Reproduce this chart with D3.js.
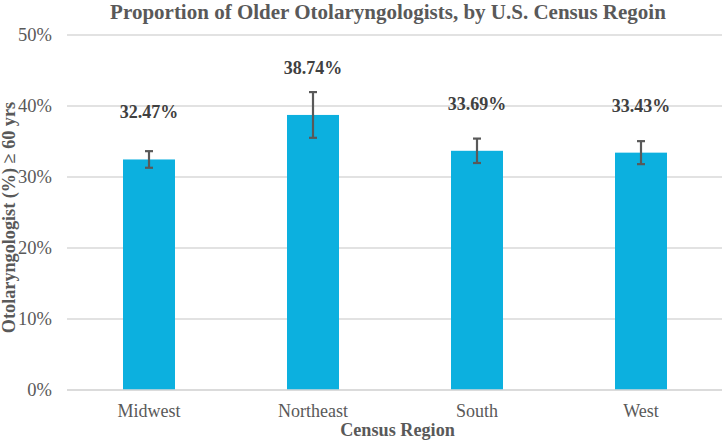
<!DOCTYPE html>
<html>
<head>
<meta charset="utf-8">
<script src="https://cdn.jsdelivr.net/npm/d3@7"></script>
<style>
  body { margin: 0; background: #fff; }
</style>
</head>
<body>
<svg id="chart" width="722" height="442"></svg>
<script>
const categories = ["Midwest", "Northeast", "South", "West"];
const values = [32.47, 38.74, 33.69, 33.43];
const errors = [1.17, 3.22, 1.72, 1.62];
const yTicks = [0, 10, 20, 30, 40, 50];
const valueLabels = ["32.47%", "38.74%", "33.69%", "33.43%"];

const data = categories.map((c, i) => ({ c, v: values[i], e: errors[i], label: valueLabels[i] }));

const FONT = "'Liberation Serif', 'Times New Roman', Times, 'DejaVu Serif', serif";
const svg = d3.select("#chart");
const plot = { left: 67, right: 722, top: 35, bottom: 390 };

const x = d3.scaleBand().domain(categories)
  .range([plot.left, plot.right + 1])
  .paddingInner(0.683).paddingOuter(0.3415);
const y = d3.scaleLinear().domain([0, 50]).range([plot.bottom, plot.top]);

const grey = "#595959";

// gridlines
svg.append("g").selectAll("line").data(yTicks).join("line")
  .attr("x1", plot.left).attr("x2", plot.right)
  .attr("y1", d => y(d)).attr("y2", d => y(d))
  .attr("stroke", "#d9d9d9").attr("stroke-width", 1.3);

// y axis labels
const yAxis = d3.axisLeft(y).tickValues(yTicks).tickFormat(d => d + "%").tickSize(0).tickPadding(0);
const gy = svg.append("g").attr("transform", `translate(52,0)`).call(yAxis);
gy.select(".domain").remove();
gy.selectAll("text").style("font-family", FONT).style("font-size", "18.5px").attr("fill", grey);

// bars
svg.append("g").selectAll("rect").data(data).join("rect")
  .attr("x", d => x(d.c)).attr("width", x.bandwidth())
  .attr("y", d => y(d.v)).attr("height", d => y(0) - y(d.v))
  .attr("fill", "#0cb0df");

// error bars
const eb = svg.append("g").attr("stroke", grey).attr("stroke-width", 2.2);
data.forEach(d => {
  const cx = x(d.c) + x.bandwidth() / 2;
  eb.append("line").attr("x1", cx).attr("x2", cx).attr("y1", y(d.v + d.e)).attr("y2", y(d.v - d.e));
  eb.append("line").attr("x1", cx - 4).attr("x2", cx + 4).attr("y1", y(d.v + d.e)).attr("y2", y(d.v + d.e));
  eb.append("line").attr("x1", cx - 4).attr("x2", cx + 4).attr("y1", y(d.v - d.e)).attr("y2", y(d.v - d.e));
});

// value labels
svg.append("g").selectAll("text").data(data).join("text")
  .attr("x", d => x(d.c) + x.bandwidth() / 2)
  .attr("y", d => y(d.v) - 41)
  .attr("text-anchor", "middle")
  .style("font-family", FONT).style("font-size", "18px").style("font-weight", "bold")
  .attr("fill", "#404040")
  .text(d => d.label);

// x axis line
svg.append("line").attr("x1", plot.left).attr("x2", plot.right)
  .attr("y1", y(0)).attr("y2", y(0)).attr("stroke", "#d9d9d9").attr("stroke-width", 1.3);

// x axis labels
const xAxis = d3.axisBottom(x).tickSize(0).tickPadding(0);
const gx = svg.append("g").attr("transform", `translate(0,${y(0)})`).call(xAxis);
gx.select(".domain").remove();
gx.selectAll("text").style("font-family", FONT).style("font-size", "18px").attr("fill", grey)
  .attr("dy", null).attr("y", 27);

// title
svg.append("text").attr("x", 388).attr("y", 19).attr("text-anchor", "middle")
  .style("font-family", FONT).style("font-size", "21px").style("font-weight", "bold")
  .attr("fill", grey)
  .text("Proportion of Older Otolaryngologists, by U.S. Census Regoin");

// x axis title
svg.append("text").attr("x", 397.5).attr("y", 436).attr("text-anchor", "middle")
  .style("font-family", FONT).style("font-size", "18.2px").style("font-weight", "bold")
  .attr("fill", grey)
  .text("Census Region");

// y axis title
svg.append("text").attr("transform", "translate(15,217.5) rotate(-90)").attr("text-anchor", "middle")
  .style("font-family", FONT).style("font-size", "18.2px").style("font-weight", "bold")
  .attr("fill", grey)
  .text("Otolaryngologist (%) ≥ 60 yrs");
</script>
</body>
</html>
